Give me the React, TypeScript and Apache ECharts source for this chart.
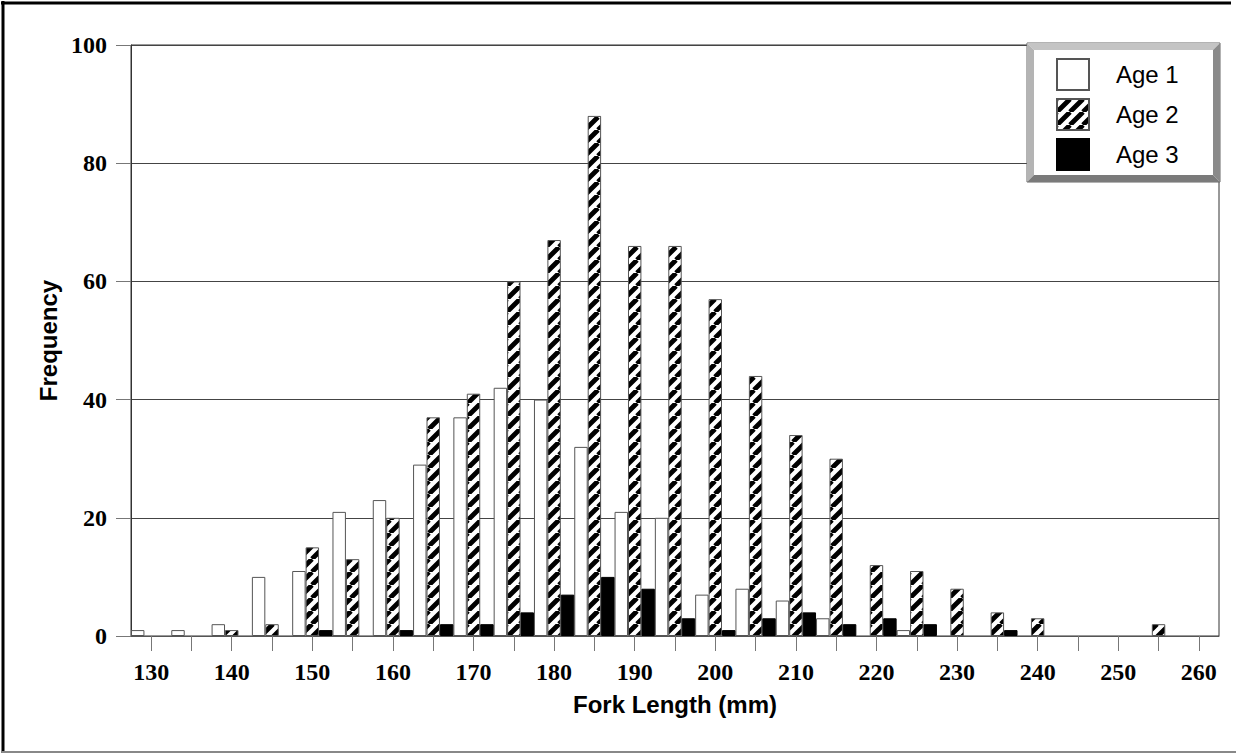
import React, { useEffect, useRef } from "react";
import * as echarts from "echarts";

const categories = [
  "130", "135", "140", "145", "150", "155", "160", "165", "170", "175",
  "180", "185", "190", "195", "200", "205", "210", "215", "220", "225",
  "230", "235", "240", "245", "250", "255", "260",
];
const seriesNames = ["Age 1", "Age 2", "Age 3"];
const age1 = [1, 1, 2, 10, 11, 21, 23, 29, 37, 42, 40, 32, 21, 20, 7, 8, 6, 3, 0, 1, 0, 0, 0, 0, 0, 0, 0];
const age2 = [0, 0, 1, 2, 15, 13, 20, 37, 41, 60, 67, 88, 66, 66, 57, 44, 34, 30, 12, 11, 8, 4, 3, 0, 0, 2, 0];
const age3 = [0, 0, 0, 0, 1, 0, 1, 2, 2, 4, 7, 10, 8, 3, 1, 3, 4, 2, 3, 2, 0, 1, 0, 0, 0, 0, 0];
const yMin = 0;
const yMax = 100;
const yStep = 20;

const SERIF = "'Liberation Serif', 'Times New Roman', serif";
const SANS = "'Liberation Sans', Arial, sans-serif";

function makeHatch(): HTMLCanvasElement {
  const s = 13;
  const c = document.createElement("canvas");
  c.width = s;
  c.height = s;
  const ctx = c.getContext("2d") as CanvasRenderingContext2D;
  ctx.fillStyle = "#ffffff";
  ctx.fillRect(0, 0, s, s);
  ctx.strokeStyle = "#000000";
  ctx.lineWidth = 4.8;
  ctx.beginPath();
  for (const o of [-s, 0, s]) {
    ctx.moveTo(o, s);
    ctx.lineTo(o + s, 0);
  }
  ctx.stroke();
  return c;
}

const nz = (arr: number[]) => arr.map((v) => (v === 0 ? null : v));

export default function App() {
  const ref = useRef<HTMLDivElement>(null);
  useEffect(() => {
    if (!ref.current) return;
    const chart = echarts.init(ref.current, undefined, { renderer: "svg" });
    const hatch = makeHatch();
    const hatchFill: any = { image: hatch, repeat: "repeat" };
    const L = 1027, T = 43, R = 1220, B = 182, bw = 7;
    const option: any = {
      animation: false,
      backgroundColor: "#ffffff",
      grid: {
        left: 131, right: 17, top: 45, bottom: 119,
        show: true, borderColor: "#333", borderWidth: 1, backgroundColor: "transparent",
      },
      legend: {
        show: true,
        orient: "vertical",
        left: 1056,
        top: 58,
        padding: 0,
        itemWidth: 32,
        itemHeight: 31,
        itemGap: 7,
        selectedMode: false,
        icon: "rect",
        data: seriesNames,
        textStyle: { fontFamily: SANS, fontSize: 24, color: "#000", padding: [0, 0, 0, 22] },
        z: 10,
      },
      xAxis: {
        type: "category",
        data: categories,
        axisLine: { show: true, lineStyle: { color: "#555", width: 1 } },
        axisTick: { show: true, alignWithLabel: true, interval: 0, length: 15, lineStyle: { color: "#777" } },
        axisLabel: { interval: 1, margin: 24, fontFamily: SERIF, fontSize: 24, fontWeight: "bold", color: "#000" },
        name: "Fork Length (mm)",
        nameLocation: "middle",
        nameGap: 56,
        nameTextStyle: { fontFamily: SANS, fontSize: 24, fontWeight: "bold", color: "#000" },
      },
      yAxis: {
        type: "value",
        min: yMin,
        max: yMax,
        interval: yStep,
        axisLine: { show: true, lineStyle: { color: "#333", width: 1 } },
        axisTick: { show: true, length: 15, lineStyle: { color: "#777" } },
        axisLabel: { margin: 24, fontFamily: SERIF, fontSize: 24, fontWeight: "bold", color: "#000" },
        splitLine: { show: true, lineStyle: { color: "#444", width: 1 } },
        name: "Frequency",
        nameLocation: "middle",
        nameGap: 66,
        nameRotate: 90,
        nameTextStyle: { fontFamily: SANS, fontSize: 24, fontWeight: "bold", color: "#000" },
      },
      series: [
        {
          type: "bar", name: seriesNames[0], data: nz(age1),
          barGap: "0%", barCategoryGap: "0%",
          itemStyle: { color: "#ffffff", borderColor: "#555", borderWidth: 1 },
        },
        {
          type: "bar", name: seriesNames[1], data: nz(age2),
          barGap: "0%", barCategoryGap: "0%",
          itemStyle: { color: hatchFill, borderColor: "#555", borderWidth: 1 },
        },
        {
          type: "bar", name: seriesNames[2], data: nz(age3),
          barGap: "0%", barCategoryGap: "0%",
          itemStyle: { color: "#000000", borderColor: "#000", borderWidth: 1 },
        },
      ],
      graphic: [
        { type: "line", z: 3, shape: { x1: 1, y1: 3, x2: 1231, y2: 3 }, style: { stroke: "#000", lineWidth: 3 } },
        { type: "line", z: 3, shape: { x1: 3, y1: 1, x2: 3, y2: 753 }, style: { stroke: "#000", lineWidth: 3 } },
        { type: "line", z: 3, shape: { x1: 2, y1: 752, x2: 1236, y2: 752 }, style: { stroke: "#888", lineWidth: 2 } },
        { type: "rect", z: 5, shape: { x: L, y: T, width: R - L, height: B - T }, style: { fill: "#ffffff", stroke: "#666", lineWidth: 1 } },
        { type: "polygon", z: 5, shape: { points: [[L, T], [R, T], [R - bw, T + bw], [L + bw, T + bw]] }, style: { fill: "#c4c4c4" } },
        { type: "polygon", z: 5, shape: { points: [[L, T], [L + bw, T + bw], [L + bw, B - bw], [L, B]] }, style: { fill: "#b4b4b4" } },
        { type: "polygon", z: 5, shape: { points: [[R, T], [R, B], [R - bw, B - bw], [R - bw, T + bw]] }, style: { fill: "#8a8a8a" } },
        { type: "polygon", z: 5, shape: { points: [[L, B], [R, B], [R - bw, B - bw], [L + bw, B - bw]] }, style: { fill: "#7a7a7a" } },
      ],
    };
    chart.setOption(option);
    return () => chart.dispose();
  }, []);
  return <div ref={ref} style={{ position: "fixed", left: 0, top: 0, width: 1236, height: 755 }} />;
}
